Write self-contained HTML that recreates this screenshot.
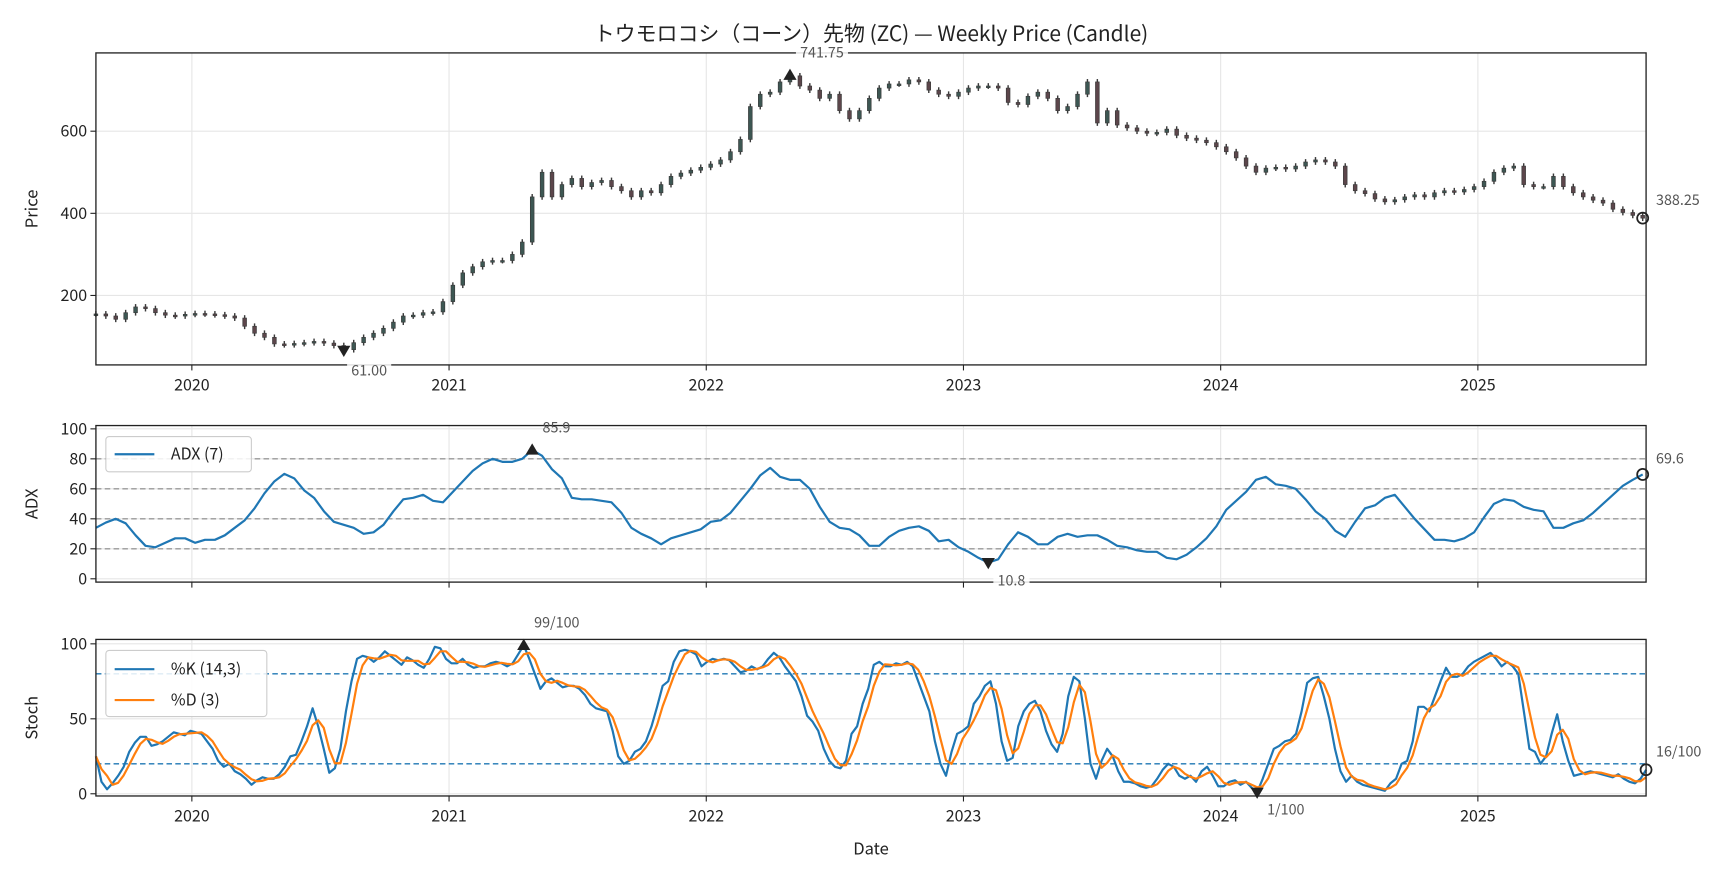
<!DOCTYPE html>
<html><head><meta charset="utf-8"><style>
html,body{margin:0;padding:0;background:#fff;}
svg{display:block;font-family:"Noto Sans CJK JP","Liberation Sans",sans-serif;}
</style></head><body>
<svg id="fig" width="1728" height="878" viewBox="0 0 1567.3 796.4" preserveAspectRatio="none" xmlns="http://www.w3.org/2000/svg">
<rect width="1567.3" height="796.4" fill="#fff"/>
<text x="790" y="37" font-size="19" text-anchor="middle" fill="#222">トウモロコシ（コーン）先物 (ZC) — Weekly Price (Candle)</text>
<g id="g"></g>
</svg>
<script>
// ---- data ----
const startYear = 2019.627;            // first candle (decimal year)
const stepYears = 0.03855;             // ~biweekly sampling
const closes = [155,150,142,158,172,168,158,152,150,154,156,155,153,150,145,125,108,98,82,80,83,85,88,84,78,68,85,98,108,120,135,150,152,158,160,185,225,255,270,282,285,285,300,330,440,500,440,470,485,465,475,480,465,455,440,455,450,470,490,498,505,512,520,530,550,580,660,690,695,720,734.75,710,700,680,690,650,630,650,680,705,715,715,725,720,700,690,685,695,705,710,710,705,670,665,685,695,680,650,660,690,720,620,650,615,608,600,595,597,605,590,583,578,572,562,550,535,515,500,510,512,508,515,525,530,525,515,470,455,448,435,428,433,440,445,440,450,455,452,458,465,478,500,510,515,470,465,465,490,465,450,440,432,425,410,402,395,388.25];
const wick = 7;
const priceTicks = [200,400,600];
const yearTicks = [2020,2021,2022,2023,2024,2025];
const adx = [34,37.5,40,37,29,22,21,24,27,27,24,26,26,29,34,39,47,57,65,70,67,59,54,45,38,36,34,30,31,36,45,53,54,56,52,51,58,65,72,77,80,78,78,80,85.9,82,73,67,54,53,53,52,51,44,34,30,27,23,27,29,31,33,38,39,44,52,60,69,74,68,66,66,60,48,38,34,33,29,22,22,28,32,34,35,32,25,26,21,18,14,10.8,13,23,31,28,23,23,28,30,28,29,29,26,22,21,19,18,18,14,13,16,21,27,35,46,52,58,66,68,63,62,60,53,45,40,32,28,38,47,49,54,56,48,40,33,26,26,25,27,31,41,50,53,52,48,46,45,34,34,37,39,44,50,56,62,66,69.6];
const adxTicks = [0,20,40,60,80,100];
const adxLevels = [20,40,60,80];
const stochK = [25,8,3,7,12,18,28,34,38,38,32,33,35,38,41,40,39,42,41,40,35,30,22,18,20,15,13,10,6,9,11,10,10,13,18,25,26,35,45,57,45,30,14,17,30,55,75,90,92,91,88,91,95,92,89,86,91,89,86,84,90,98,97,90,87,87,90,86,84,85,85,87,88,87,85,87,93,99,90,80,70,75,77,74,71,72,72,70,66,60,57,56,55,42,25,20,22,28,30,35,45,58,72,75,88,95,96,95,93,85,88,90,89,90,89,85,81,82,85,83,85,90,94,91,85,80,75,65,52,48,42,30,22,18,17,22,40,45,60,70,86,88,85,85,87,86,88,85,75,65,55,35,20,12,28,40,42,45,60,65,72,75,60,35,22,24,45,55,60,62,55,42,33,28,40,65,78,75,50,20,10,22,30,25,15,8,8,7,5,4,5,10,16,20,18,12,10,12,8,15,18,12,5,5,8,9,6,8,4,1,10,20,30,32,35,36,40,55,74,77,78,65,50,30,15,8,12,8,6,5,4,3,2,7,10,20,22,35,58,58,55,65,75,84,78,78,80,85,88,90,92,94,90,85,88,85,80,55,30,28,20,25,40,53,35,22,12,13,14,15,14,13,12,11,13,10,8,7,10,16];
const stochTicks = [0,50,100];
const stochLevels = [20,80];

// ---- layout (viewBox units) ----
const X0=87, X1=1493;
const xMin=2019.627, xMax=2025.654;
const xYear = y => X0 + (y-xMin)/(xMax-xMin)*(X1-X0);
const xIdx = i => xYear(startYear + i*stepYears);
const P = {top:48,bot:331, y:v=>268-(v-200)*0.3725};
const A = {top:386,bot:528, y:v=>525-v*1.36};
const S = {top:580,bot:722, y:v=>720-v*1.36};
const NS="http://www.w3.org/2000/svg";
const g=document.getElementById('g');
function el(tag,attrs,parent,text){const e=document.createElementNS(NS,tag);for(const k in attrs)e.setAttribute(k,attrs[k]);if(text!==undefined)e.textContent=text;(parent||g).appendChild(e);return e;}

function panel(name,P,ticks,labelTxt,showX){
  const grp=el('g',{});
  
  
  yearTicks.forEach(yr=>{const x=xYear(yr);
    const l=el('line',{x1:x,x2:x,y1:P.top,y2:P.bot,stroke:'#e6e6e6','stroke-width':1},grp);
    
    const t=el('line',{x1:x,x2:x,y1:P.bot,y2:P.bot+5,stroke:'#222','stroke-width':1},grp);
    
    if(showX){const tx=el('text',{x:x,y:P.bot+23,'font-size':14.5,'text-anchor':'middle',fill:'#222'},grp,String(yr));
      }
  });
  ticks.forEach(v=>{const y=P.y(v);
    const l=el('line',{x1:X0,x2:X1,y1:y,y2:y,stroke:'#e6e6e6','stroke-width':1},grp);
    
    const t=el('line',{x1:X0-5,x2:X0,y1:y,y2:y,stroke:'#222','stroke-width':1},grp);
    
    const tx=el('text',{x:X0-8,y:y+5,'font-size':14.5,'text-anchor':'end',fill:'#222'},grp,String(v));
    
  });
  const cy=(P.top+P.bot)/2;
  const yl=el('text',{x:34,y:cy,'font-size':15,'text-anchor':'middle',fill:'#222',transform:`rotate(-90 34 ${cy})`},grp,labelTxt);
  
  return grp;
}
function frame(name,P){const r=el('rect',{x:X0,y:P.top,width:X1-X0,height:P.bot-P.top,fill:'none',stroke:'#222','stroke-width':1.2});
  }
function label(txt,x,y,anchor,name,bg){
  if(bg){const w=txt.length*7.2+4;const r=el('rect',{x:anchor==='middle'?x-w/2:x-2,y:y-12,width:w,height:15,fill:'#fff',opacity:0.85});
    }
  const t=el('text',{x:x,y:y,'font-size':13,'text-anchor':anchor,fill:'#555'},g,txt);
  }
function tri(x,y,up,name){const s=6;const pts=up?`${x},${y-s} ${x-s},${y+s*0.7} ${x+s},${y+s*0.7}`:`${x},${y+s} ${x-s},${y-s*0.7} ${x+s},${y-s*0.7}`;
  const p=el('polygon',{points:pts,fill:'#222'});}
function ring(x,y,name){const c=el('circle',{cx:x,cy:y,r:5,fill:'none',stroke:'#222','stroke-width':1.6});}
function line(vals,xf,yf,color,name,w){const d=vals.map((v,i)=>(i?'L':'M')+xf(i).toFixed(2)+','+yf(v).toFixed(2)).join('');
  const p=el('path',{d:d,fill:'none',stroke:color,'stroke-width':w||2,'stroke-linejoin':'round'});}
function argmax(a){let m=0;a.forEach((v,i)=>{if(v>a[m])m=i;});return m;}
function argmin(a){let m=0;a.forEach((v,i)=>{if(v<a[m])m=i;});return m;}

// ---- price panel ----
panel('price',P,priceTicks,'Price',true);
const cw=3.4;
const highs=[],lows=[];
closes.forEach((c,i)=>{
  const o=i?closes[i-1]:c;const hi=Math.max(o,c)+wick, lo=Math.min(o,c)-wick;highs.push(hi);lows.push(lo);const x=xIdx(i);
  const w=el('line',{x1:x,x2:x,y1:P.y(hi),y2:P.y(lo),stroke:'#3a3a3a','stroke-width':1.3});
  
  const top=P.y(Math.max(o,c)), h=Math.max(1.5,Math.abs(P.y(o)-P.y(c)));
  const b=el('rect',{x:x-cw/2,y:top,width:cw,height:h,fill:c>=o?'#3d5753':'#5c464b',stroke:'#3a3a3a','stroke-width':0.6});
  
});
frame('price',P);
{const im=argmax(highs),x=xIdx(im),y=P.y(highs[im]);tri(x,y+2,true,'price-high-marker');label(highs[im].toFixed(2),x+29,y-14,'middle','price-high-label',true);
 const jm=argmin(lows),xx=xIdx(jm),yy=P.y(lows[jm]);tri(xx,yy-2,false,'price-low-marker');label(lows[jm].toFixed(2),xx+23,yy+21,'middle','price-low-label',true);
 const li=closes.length-1;ring(xIdx(li),P.y(closes[li]),'price-last-marker');label(closes[li].toFixed(2),1502,P.y(closes[li])-12,'start','price-last-label');}

// ---- ADX panel ----
panel('adx',A,adxTicks,'ADX',false);
adxLevels.forEach(v=>{const l=el('line',{x1:X0,x2:X1,y1:A.y(v),y2:A.y(v),stroke:'#999','stroke-width':1.2,'stroke-dasharray':'5,3'});
  });
line(adx,xIdx,A.y,'#1f77b4','adx-line',2);
frame('adx',A);
{const im=argmax(adx),x=xIdx(im),y=A.y(adx[im]);tri(x,y,true,'adx-high-marker');label(adx[im].toFixed(1),x+22,y-16,'middle','adx-high-label');
 const jm=argmin(adx),xx=xIdx(jm),yy=A.y(adx[jm]);tri(xx,yy,false,'adx-low-marker');label(adx[jm].toFixed(1),xx+21,yy+21,'middle','adx-low-label',true);
 const li=adx.length-1;ring(xIdx(li),A.y(adx[li]),'adx-last-marker');label(adx[li].toFixed(1),1502,A.y(adx[li])-10,'start','adx-last-label');}
{const lg=el('g',{});
 el('rect',{x:96,y:396,width:132,height:32,rx:3,fill:'#fff','fill-opacity':0.85,stroke:'#ccc'},lg);
 el('line',{x1:104,x2:140,y1:412,y2:412,stroke:'#1f77b4','stroke-width':2},lg);
 const t=el('text',{x:155,y:417,'font-size':14.5,fill:'#222'},lg,'ADX (7)');}

// ---- Stoch panel ----
panel('stoch',S,stochTicks,'Stoch',true);
stochLevels.forEach(v=>{const l=el('line',{x1:X0,x2:X1,y1:S.y(v),y2:S.y(v),stroke:'#1f77b4','stroke-width':1.2,'stroke-dasharray':'5,3'});
  });
const xK=i=>X0+i/(stochK.length-1)*(X1-X0);
const stochD=stochK.map((v,i)=>{const a=stochK.slice(Math.max(0,i-2),i+1);return a.reduce((s,q)=>s+q,0)/a.length;});
line(stochK,xK,S.y,'#1f77b4','stoch-k-line',2);
line(stochD,xK,S.y,'#ff7f0e','stoch-d-line',2);
frame('stoch',S);
{const im=argmax(stochK),x=xK(im),y=S.y(stochK[im]);tri(x,y,true,'stoch-high-marker');label(Math.round(stochK[im])+'/100',x+30,y-16,'middle','stoch-high-label');
 const jm=argmin(stochK),xx=xK(jm),yy=S.y(stochK[jm]);tri(xx,yy,false,'stoch-low-marker');label(Math.round(stochK[jm])+'/100',xx+26,yy+20,'middle','stoch-low-label');
 const li=stochK.length-1;ring(xK(li),S.y(stochK[li]),'stoch-last-marker');label(Math.round(stochK[li])+'/100',1502,S.y(stochK[li])-12,'start','stoch-last-label');}
{const lg=el('g',{});
 el('rect',{x:96,y:590,width:146,height:60,rx:3,fill:'#fff','fill-opacity':0.85,stroke:'#ccc'},lg);
 el('line',{x1:104,x2:140,y1:607,y2:607,stroke:'#1f77b4','stroke-width':2},lg);
 const t1=el('text',{x:155,y:612,'font-size':14.5,fill:'#222'},lg,'%K (14,3)');
 el('line',{x1:104,x2:140,y1:635,y2:635,stroke:'#ff7f0e','stroke-width':2},lg);
 const t2=el('text',{x:155,y:640,'font-size':14.5,fill:'#222'},lg,'%D (3)');}
{const t=el('text',{x:790,y:775,'font-size':15,'text-anchor':'middle',fill:'#222'},g,'Date');}
</script>
</body></html>
